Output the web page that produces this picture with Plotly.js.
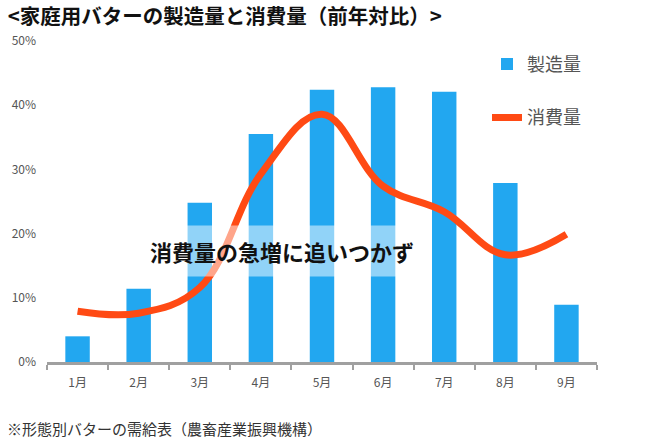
<!DOCTYPE html>
<html>
<head>
<meta charset="utf-8">
<script src="https://cdn.plot.ly/plotly-3.0.1.min.js"></script>
<style>
html,body{margin:0;padding:0;background:#fff;}
#chart{width:645px;height:443px;}
</style>
</head>
<body>
<div id="chart"></div>
<script>
const months = ['1月','2月','3月','4月','5月','6月','7月','8月','9月'];
const production = [4.0, 11.4, 24.8, 35.5, 42.4, 42.8, 42.1, 27.9, 8.9];
const consumption = [7.9, 7.6, 11.6, 29.3, 38.6, 27.4, 23.4, 16.7, 19.9];
const yTicks = [0, 10, 20, 30, 40, 50];

const FONT = '"Noto Sans CJK JP", "Noto Sans", sans-serif';

const traces = [
  {
    type: 'bar', name: '製造量', x: months, y: production,
    marker: {color: '#22a7f0'}, width: 0.4, legendgroup: 'a'
  },
  {
    type: 'scatter', mode: 'lines', name: '消費量', x: months, y: consumption,
    line: {color: '#ff4a14', width: 7, shape: 'spline', smoothing: 1.1},
    legendgroup: 'b'
  }
];

const layout = {
  width: 645, height: 443,
  margin: {l: 47, r: 48, t: 41, b: 81},
  paper_bgcolor: '#fff', plot_bgcolor: '#fff',
  font: {family: FONT, color: '#555'},
  showlegend: true,
  legend: {
    x: 0.80, y: 0.985, xanchor: 'left', yanchor: 'top',
    font: {size: 18, color: '#555', family: FONT},
    traceorder: 'grouped', tracegroupgap: 27,
    itemwidth: 30, bgcolor: 'rgba(0,0,0,0)'
  },
  xaxis: {
    type: 'category',
    showline: true, linecolor: '#a0a0a0', linewidth: 3,
    ticks: 'outside', tickson: 'boundaries', ticklen: 5, tickwidth: 2, tickcolor: '#a0a0a0',
    tickfont: {size: 12, color: '#555'},
    ticklabelstandoff: 8,
    showgrid: false, zeroline: false,
    range: [-0.5, 8.5]
  },
  yaxis: {
    range: [0, 50], tickvals: yTicks, ticktext: yTicks.map(v => v + '%'),
    showgrid: false, zeroline: false, showline: false, ticks: '',
    tickfont: {size: 12, color: '#555'},
    ticklabelstandoff: 10
  },
  title: {
    text: '<b><家庭用バターの製造量と消費量（前年対比）></b>',
    font: {size: 20.5, color: '#111', family: FONT},
    x: 0.012, xanchor: 'left', xref: 'container', y: 0.962, yanchor: 'middle', yref: 'container'
  },
  annotations: [
    {
      text: '<b>消費量の急増に追いつかず</b>',
      xref: 'paper', yref: 'paper', x: 0.428, y: 0.345, xanchor: 'center', yanchor: 'middle',
      showarrow: false, font: {size: 22, color: '#111', family: FONT},
      bgcolor: 'rgba(255,255,255,0.5)', borderpad: 9
    },
    {
      text: '※形態別バターの需給表（農畜産業振興機構）',
      xref: 'paper', yref: 'paper', x: -0.076, y: -0.206, xanchor: 'left', yanchor: 'middle',
      showarrow: false, font: {size: 15, color: '#333', family: FONT}
    }
  ]
};

Plotly.newPlot('chart', traces, layout, {displayModeBar: false, staticPlot: true});
</script>
</body>
</html>
